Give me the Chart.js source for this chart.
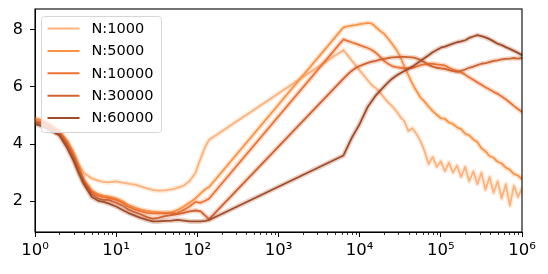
<!DOCTYPE html>
<html lang="en">
<head>
    <meta charset="UTF-8">
    <title>Curves by N</title>
    <script src="https://cdn.jsdelivr.net/npm/chart.js"></script>
    <style>
        html, body { margin: 0; padding: 0; background: #fff; }
    </style>
</head>
<body>
    <canvas id="myChart" width="548" height="274"></canvas>

    <script>
        const seriesNames = ['N:1000', 'N:5000', 'N:10000', 'N:30000', 'N:60000'];
        const seriesColors = ['#fdb27c', '#fd9243', '#ee7332', '#d0622f', '#a14b28'];

        // x positions: dense low region, then the large-step region
        const xLow = [1, 1.3, 1.6, 2, 2.5, 3, 3.5, 4, 5, 6, 7, 8, 10, 12, 14, 17, 20, 24, 28, 33, 40, 48, 57, 68, 80, 95, 110, 125, 140];
        const xHigh = [6310, 7080, 7940, 8910, 10000, 11220, 12590, 14130, 15850, 17780,
            19950, 22390, 25120, 28180, 31620, 35480, 39810, 44670, 50120, 56230,
            63100, 70790, 79430, 89130, 100000, 112200, 125900, 141300, 158500, 177800,
            199500, 223900, 251200, 281800, 316200, 354800, 398100, 446700, 501200, 562300,
            631000, 707900, 794300, 891300, 1000000];

        const lowN1000 = [4.85, 4.75, 4.6, 4.4, 4.0, 3.6, 3.25, 3.0, 2.8, 2.72, 2.68, 2.66, 2.7, 2.65, 2.62, 2.58, 2.52, 2.45, 2.4, 2.37, 2.38, 2.42, 2.47, 2.55, 2.7, 3.0, 3.5, 3.9, 4.15];
        const lowN5000 = [4.9, 4.8, 4.65, 4.45, 4.1, 3.7, 3.2, 2.75, 2.38, 2.25, 2.2, 2.17, 2.1, 2.0, 1.88, 1.78, 1.72, 1.67, 1.64, 1.62, 1.6, 1.62, 1.7, 1.82, 1.95, 2.1, 2.28, 2.42, 2.5];
        const lowN10000 = [4.8, 4.75, 4.6, 4.4, 4.05, 3.6, 3.15, 2.72, 2.33, 2.2, 2.15, 2.12, 2.05, 1.95, 1.82, 1.72, 1.66, 1.6, 1.58, 1.58, 1.6, 1.58, 1.6, 1.7, 1.82, 1.98, 1.95, 2.02, 2.1];
        const lowN30000 = [4.75, 4.7, 4.55, 4.35, 3.95, 3.5, 3.0, 2.65, 2.25, 2.1, 2.05, 2.05, 1.95, 1.85, 1.72, 1.62, 1.55, 1.45, 1.4, 1.42, 1.48, 1.52, 1.55, 1.6, 1.65, 1.68, 1.65, 1.5, 1.38];
        const lowN60000 = [4.7, 4.6, 4.45, 4.3, 3.85, 3.4, 2.95, 2.6, 2.15, 2.02, 1.98, 1.93, 1.82, 1.7, 1.6, 1.5, 1.42, 1.35, 1.3, 1.3, 1.32, 1.33, 1.35, 1.33, 1.3, 1.3, 1.3, 1.32, 1.35];

        const highN1000 = [7.28, 7.1, 6.92, 6.75, 6.57, 6.4, 6.22, 6.05, 5.95, 5.8,
            5.62, 5.45, 5.32, 5.15, 4.95, 4.8, 4.45, 4.55, 4.35, 4.1,
            3.75, 3.3, 3.55, 3.2, 3.4, 3.05, 3.35, 3.0, 3.25, 2.85,
            3.2, 2.7, 3.05, 2.6, 3.0, 2.4, 2.85, 2.3, 2.7, 2.1,
            2.6, 1.85, 2.55, 2.15, 2.45];
        const highN5000 = [8.07, 8.1, 8.13, 8.15, 8.18, 8.2, 8.23, 8.2, 8.08, 7.95,
            7.85, 7.68, 7.5, 7.3, 7.05, 6.7, 6.4, 6.1, 5.85, 5.62,
            5.48, 5.3, 5.15, 5.02, 4.9, 4.88, 4.75, 4.7, 4.58, 4.52,
            4.36, 4.3, 4.16, 4.07, 3.85, 3.75, 3.58, 3.52, 3.38, 3.32,
            3.18, 3.1, 2.96, 2.9, 2.78];
        const highN10000 = [7.65, 7.6, 7.55, 7.5, 7.45, 7.4, 7.35, 7.28, 7.18, 7.05,
            6.9, 6.8, 6.72, 6.68, 6.66, 6.65, 6.64, 6.66, 6.7, 6.75,
            6.78, 6.8, 6.8, 6.78, 6.76, 6.74, 6.66, 6.6, 6.55, 6.5,
            6.42, 6.32, 6.24, 6.15, 6.07, 5.98, 5.9, 5.82, 5.75, 5.66,
            5.56, 5.45, 5.33, 5.22, 5.12];
        const highN30000 = [6.28, 6.42, 6.55, 6.65, 6.72, 6.78, 6.83, 6.87, 6.9, 6.94,
            6.97, 7.0, 7.02, 7.03, 7.04, 7.04, 7.03, 7.02, 6.99, 6.93,
            6.85, 6.76, 6.7, 6.66, 6.64, 6.62, 6.58, 6.54, 6.52, 6.55,
            6.6, 6.66, 6.7, 6.75, 6.8, 6.82, 6.86, 6.9, 6.92, 6.95,
            6.97, 6.98, 7.0, 6.98, 7.0];
        const highN60000 = [3.6, 3.9, 4.2, 4.45, 4.7, 5.0, 5.3, 5.5, 5.7, 5.85,
            6.0, 6.15, 6.28, 6.38, 6.47, 6.55, 6.62, 6.7, 6.8, 6.9,
            7.0, 7.1, 7.2, 7.28, 7.36, 7.4, 7.45, 7.5, 7.55, 7.58,
            7.62, 7.7, 7.75, 7.8, 7.76, 7.72, 7.66, 7.58, 7.5, 7.45,
            7.38, 7.32, 7.25, 7.18, 7.1];

        const lowValues = [lowN1000, lowN5000, lowN10000, lowN30000, lowN60000];
        const highValues = [highN1000, highN5000, highN10000, highN30000, highN60000];

        const yTicks = [2, 4, 6, 8];
        const xMajorTicks = [1, 10, 100, 1000, 10000, 100000, 1000000];
        const xTickLabels = ['10⁰', '10¹', '10²', '10³', '10⁴', '10⁵', '10⁶'];

        function toPoints(i) {
            const xs = xLow.concat(xHigh);
            const ys = lowValues[i].concat(highValues[i]);
            return xs.map((x, k) => ({ x: x, y: ys[k] }));
        }

        function withAlpha(hex, a) {
            const r = parseInt(hex.slice(1, 3), 16), g = parseInt(hex.slice(3, 5), 16), b = parseInt(hex.slice(5, 7), 16);
            return `rgba(${r}, ${g}, ${b}, ${a})`;
        }

        const datasets = [];
        seriesNames.forEach((name, i) => {
            // soft band behind the line
            datasets.push({
                label: name + ' band',
                data: toPoints(i),
                borderColor: withAlpha(seriesColors[i], 0.25),
                borderWidth: 5,
                pointRadius: 0,
                order: 100 - 2 * i
            });
            datasets.push({
                label: name,
                data: toPoints(i),
                borderColor: seriesColors[i],
                borderWidth: 1.8,
                pointRadius: 0,
                order: 99 - 2 * i
            });
        });

        // minor ticks, legend box and frame like the original figure
        const decorations = {
            id: 'decorations',
            afterDraw(chart) {
                const ctx = chart.ctx;
                const area = chart.chartArea;
                const xs = chart.scales.x;
                ctx.save();
                ctx.strokeStyle = '#000';
                ctx.lineWidth = 0.8;
                xs.ticks.forEach(t => {
                    if (xMajorTicks.includes(t.value)) return;
                    const px = Math.round(xs.getPixelForValue(t.value)) + 0.5;
                    ctx.beginPath();
                    ctx.moveTo(px, area.bottom);
                    ctx.lineTo(px, area.bottom + 3);
                    ctx.stroke();
                });

                // legend
                const lx = area.left + 6.5, ly = area.top + 7.5, lw = 120, lh = 116;
                ctx.beginPath();
                ctx.roundRect(lx, ly, lw, lh, 3);
                ctx.fillStyle = 'rgba(255, 255, 255, 0.8)';
                ctx.fill();
                ctx.strokeStyle = '#d6d6d6';
                ctx.lineWidth = 1;
                ctx.stroke();
                ctx.font = '14.5px "DejaVu Sans"';
                ctx.textBaseline = 'middle';
                ctx.fillStyle = '#000';
                seriesNames.forEach((name, i) => {
                    const y = ly + 12 + i * 22.4;
                    ctx.strokeStyle = seriesColors[i];
                    ctx.lineWidth = 2;
                    ctx.beginPath();
                    ctx.moveTo(lx + 6, y);
                    ctx.lineTo(lx + 38, y);
                    ctx.stroke();
                    ctx.fillText(name, lx + 50, y + 0.5);
                });

                // frame
                ctx.strokeStyle = '#000';
                ctx.lineWidth = 1.1;
                ctx.strokeRect(area.left, area.top, area.right - area.left, area.bottom - area.top);
                ctx.restore();
            }
        };

        const ctx = document.getElementById('myChart').getContext('2d');
        const myChart = new Chart(ctx, {
            type: 'line',
            data: { datasets: datasets },
            plugins: [decorations],
            options: {
                responsive: false,
                animation: false,
                devicePixelRatio: 1,
                layout: { padding: { top: 9, right: 26, left: 0, bottom: 0 } },
                elements: { line: { tension: 0, borderCapStyle: 'round', borderJoinStyle: 'round' } },
                plugins: {
                    legend: { display: false },
                    tooltip: { enabled: false }
                },
                scales: {
                    x: {
                        type: 'logarithmic',
                        min: 1,
                        max: 1000000,
                        afterBuildTicks(scale) {
                            const ticks = [];
                            xMajorTicks.forEach((m, k) => {
                                if (k === xMajorTicks.length - 1) { ticks.push({ value: m }); return; }
                                for (let s = 1; s < 10; s++) ticks.push({ value: s * m });
                            });
                            scale.ticks = ticks;
                        },
                        afterFit(scale) {
                            scale.height = 42;
                            scale.paddingLeft = 0;
                            scale.paddingRight = 0;
                        },
                        grid: {
                            drawOnChartArea: false,
                            drawTicks: true,
                            tickLength: 5,
                            tickWidth: 1,
                            tickColor: (c) => (c.tick && xMajorTicks.includes(c.tick.value)) ? '#000' : 'rgba(0,0,0,0)'
                        },
                        border: { display: true, color: '#000', width: 1 },
                        ticks: {
                            autoSkip: false,
                            maxRotation: 0,
                            padding: 4,
                            color: '#000',
                            font: { family: 'DejaVu Sans', size: 16.5 },
                            callback: (value) => {
                                const k = xMajorTicks.indexOf(value);
                                return k >= 0 ? xTickLabels[k] : '';
                            }
                        }
                    },
                    y: {
                        min: 0.93,
                        max: 8.71,
                        afterBuildTicks(scale) { scale.ticks = yTicks.map(v => ({ value: v })); },
                        afterFit(scale) {
                            scale.width = 35;
                            scale.paddingTop = 0;
                            scale.paddingBottom = 0;
                        },
                        grid: {
                            drawOnChartArea: false,
                            drawTicks: true,
                            tickLength: 5,
                            tickWidth: 1,
                            tickColor: '#000'
                        },
                        border: { display: true, color: '#000', width: 1 },
                        ticks: {
                            padding: 7,
                            color: '#000',
                            font: { family: 'DejaVu Sans', size: 16 }
                        }
                    }
                }
            }
        });
    </script>
</body>
</html>
